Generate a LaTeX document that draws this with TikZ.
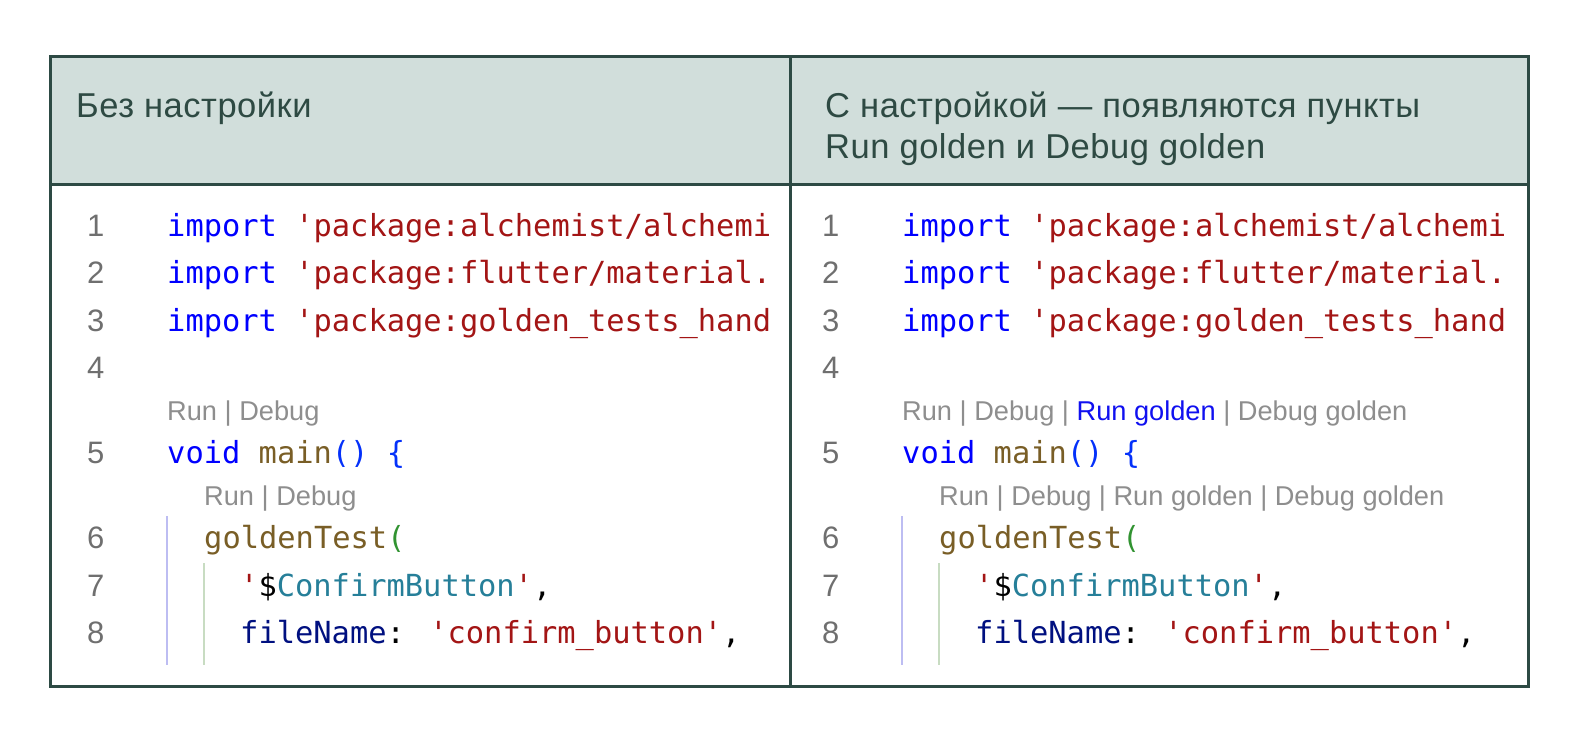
\documentclass[tikz,border=0pt]{standalone}
\usepackage{fontspec}
\setmainfont{Liberation Sans}
\newfontfamily\codefont{DejaVu Sans Mono}[WordSpace={1,0,0}]
\newfontfamily\headfont{Liberation Sans}[LetterSpace=1.5]
\definecolor{frame}{HTML}{2D4A44}
\definecolor{headfill}{HTML}{D1DEDB}
\definecolor{headtext}{HTML}{2E4A43}
\definecolor{kw}{HTML}{0000FF}
\definecolor{str}{HTML}{A31515}
\definecolor{fn}{HTML}{795E26}
\definecolor{bra}{HTML}{0431FA}
\definecolor{brb}{HTML}{319331}
\definecolor{var}{HTML}{267F99}
\definecolor{prop}{HTML}{001080}
\definecolor{lnum}{HTML}{6F6F6F}
\definecolor{lens}{HTML}{8E8E8E}
\definecolor{lensblue}{HTML}{1010F0}
\definecolor{guidea}{HTML}{BDBDF2}
\definecolor{guideb}{HTML}{C8DCC2}
\tikzset{
  code/.style={anchor=base west,inner sep=0pt,font=\codefont\fontsize{30.4}{36}\selectfont},
  lnumber/.style={anchor=base west,inner sep=0pt,text=lnum,font=\fontsize{31}{36}\selectfont},
  lenstext/.style={anchor=base west,inner sep=0pt,text=lens,font=\fontsize{27.2}{32}\selectfont},
  headtxt/.style={anchor=base west,inner sep=0pt,text=headtext,font=\headfont\fontsize{34.5}{40}\selectfont},
  framepen/.style={draw=frame,line width=3pt},
}
\begin{document}
\begin{tikzpicture}[x=1pt,y=-1pt]
\useasboundingbox (0,0) rectangle (1587,744);
\fill[white] (0,0) rectangle (1587,744);
% header
\fill[headfill] (50,56) rectangle (1528,184);
% indent guides
\foreach \dx in {0,735}{
  \draw[guidea,line width=1.5pt] (167+\dx,516) -- (167+\dx,665);
  \draw[guideb,line width=1.5pt] (204+\dx,563) -- (204+\dx,665);
}
% frame
\draw[framepen] (50,56) rectangle (1528,686);
\draw[framepen] (50,184) -- (1528,184);
\draw[framepen] (790,56) -- (790,686);
% headers
\node[headtxt] (hL) at (76,117) {Без настройки};
\node[headtxt] (hR1) at (825,117) {С настройкой — появляются пункты};
\node[headtxt] (hR2) at (825,158) {Run golden и Debug golden};
% code panels
\foreach \dx/\side in {0/L,735/R}{
  \node[lnumber] (n1\side) at (87+\dx,236) {1};
  \node[lnumber] (n2\side) at (87+\dx,283) {2};
  \node[lnumber] (n3\side) at (87+\dx,331) {3};
  \node[lnumber] (n4\side) at (87+\dx,378) {4};
  \node[lnumber] (n5\side) at (87+\dx,463) {5};
  \node[lnumber] (n6\side) at (87+\dx,548) {6};
  \node[lnumber] (n7\side) at (87+\dx,596) {7};
  \node[lnumber] (n8\side) at (87+\dx,643) {8};
  \node[code] (c1\side) at (167+\dx,236) {\textcolor{kw}{import} \textcolor{str}{'package:alchemist/alchemi}};
  \node[code] (c2\side) at (167+\dx,283) {\textcolor{kw}{import} \textcolor{str}{'package:flutter/material.}};
  \node[code] (c3\side) at (167+\dx,331) {\textcolor{kw}{import} \textcolor{str}{'package:golden\_tests\_hand}};
  \node[code] (c5\side) at (167+\dx,463) {\textcolor{kw}{void} \textcolor{fn}{main}\textcolor{bra}{()} \textcolor{bra}{\{}};
  \node[code] (c6\side) at (204+\dx,548) {\textcolor{fn}{goldenTest}\textcolor{brb}{(}};
  \node[code] (c7\side) at (240+\dx,596) {\textcolor{str}{'}\textcolor{black}{\$}\textcolor{var}{ConfirmButton}\textcolor{str}{'}\textcolor{black}{,}};
  \node[code] (c8\side) at (240+\dx,643) {\textcolor{prop}{fileName}\textcolor{black}{:} \textcolor{str}{'confirm\_button'}\textcolor{black}{,}};
}
% code lenses
\node[lenstext] (lensL1) at (167,420) {Run | Debug};
\node[lenstext] (lensL2) at (204,505) {Run | Debug};
\node[lenstext] (lensR1) at (902,420) {Run | Debug | \textcolor{lensblue}{Run golden} | Debug golden};
\node[lenstext] (lensR2) at (939,505) {Run | Debug | Run golden | Debug golden};
\end{tikzpicture}
\end{document}
